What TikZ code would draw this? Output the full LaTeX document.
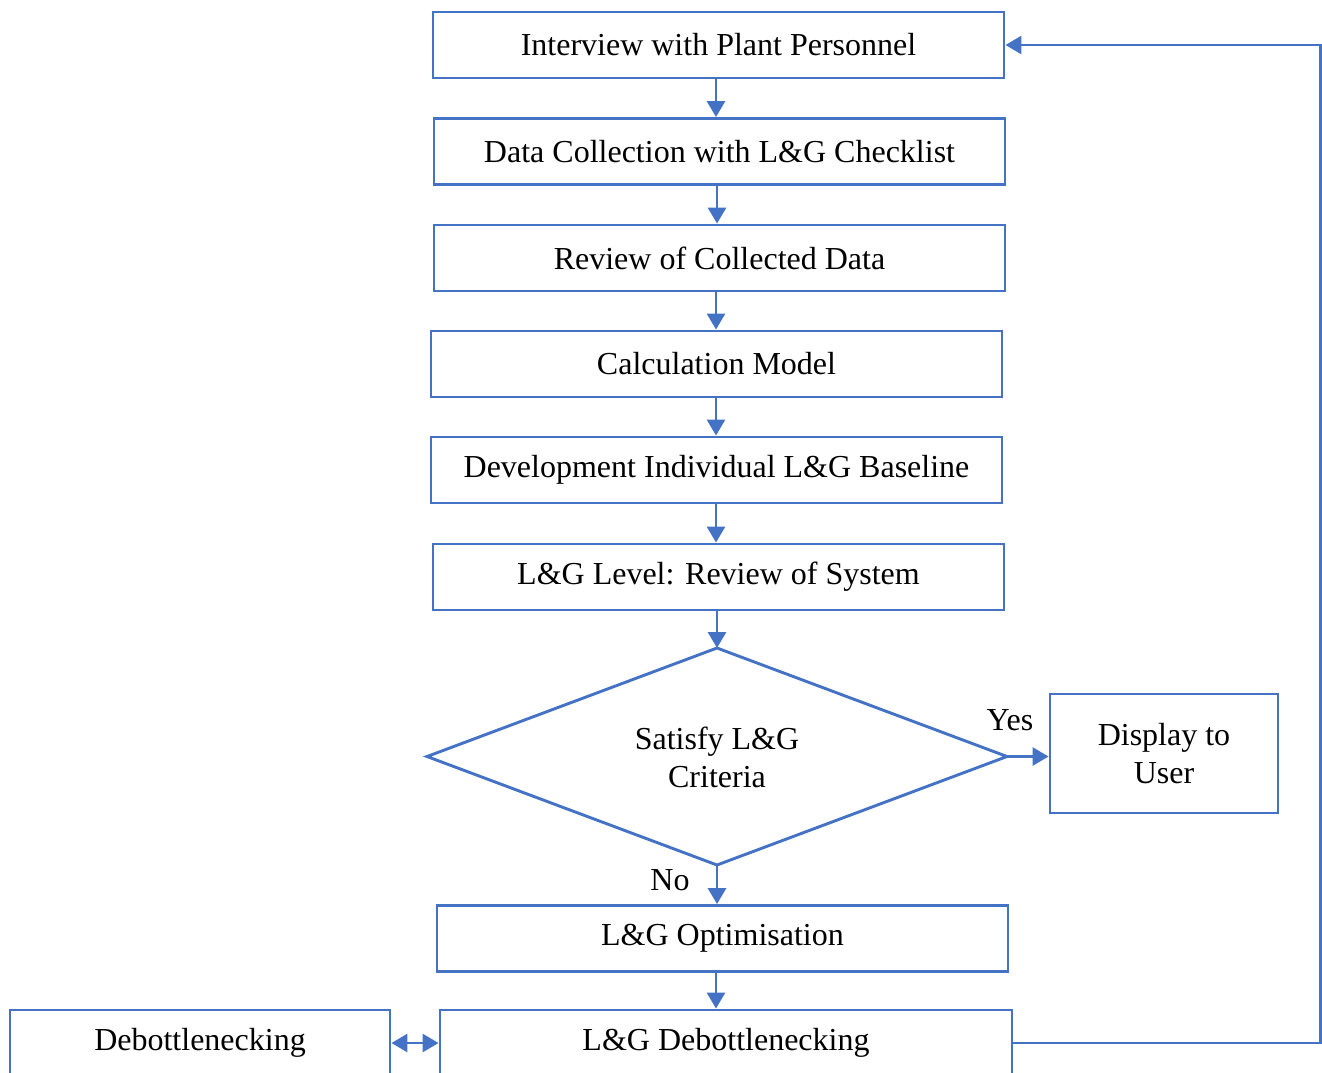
\documentclass[tikz,border=0pt]{standalone}
\usepackage{fontspec}
\setmainfont{Liberation Serif}
\usetikzlibrary{arrows.meta}
\definecolor{flowblue}{RGB}{68,114,196}
\begin{document}
\begin{tikzpicture}[x=0.5pt,y=-0.5pt,
  every node/.style={font=\fontsize{16}{19}\selectfont, text=black},
  procbox/.style={draw=flowblue, line width=1.45pt, fill=white, minimum width=285.5pt, minimum height=33pt, inner sep=0pt, align=center},
  decisline/.style={draw=flowblue, line width=1.45pt, line join=miter},
  flow/.style={draw=flowblue, line width=1.45pt, -{Triangle[length=8pt,width=9pt]}},
  flowboth/.style={draw=flowblue, line width=1.45pt, {Triangle[length=8pt,width=9pt]}-{Triangle[length=8pt,width=9pt]}}]
\useasboundingbox (0,0) rectangle (1322,1072);
\clip (0,0) rectangle (1322,1072);
\node[procbox] (interview) at (718.5,45) {Interview with Plant Personnel};
\node[procbox] (collect) at (719.5,151.5) {Data Collection with L\&G Checklist};
\node[procbox] (review) at (719.5,258) {Review of Collected Data};
\node[procbox] (calc) at (716.5,364) {Calculation Model};
\node[procbox] (devel) at (716.5,470) {Development Individual L\&G Baseline};
\node[procbox] (level) at (718.5,577) {L\&G Level: Review of System};
% decision diamond
\coordinate (dtop) at (717,648);
\coordinate (dright) at (1007,756.5);
\coordinate (dbot) at (717,865);
\coordinate (dleft) at (427,756.5);
\draw[decisline] (dtop) -- (dright) -- (dbot) -- (dleft) -- cycle;
\node[align=center] (crit) at (717,757) {Satisfy L\&G\\Criteria};
\node[procbox, minimum width=114pt, minimum height=59.5pt] (display) at (1164,753.5) {Display to\\User};
\node[procbox] (optim) at (722.5,938.5) {L\&G Optimisation};
\node[procbox, minimum width=286pt] (ldeb) at (726,1043) {L\&G Debottlenecking};
\node[procbox, minimum width=190pt] (deb) at (200,1043) {Debottlenecking};
\node (yes) at (1010,720) {Yes};
\node (no) at (670,880) {No};
\coordinate (corner1) at (1320.5,1043);
\coordinate (corner2) at (1320.5,45);
\draw[flow] (interview.south -| 716,0) -- (collect.north -| 716,0);
\draw[flow] (collect.south -| 717,0) -- (review.north -| 717,0);
\draw[flow] (review.south -| 716,0) -- (calc.north -| 716,0);
\draw[flow] (calc.south -| 716,0) -- (devel.north -| 716,0);
\draw[flow] (devel.south -| 716,0) -- (level.north -| 716,0);
\draw[flow] (dtop |- level.south) -- (dtop);
\draw[flow] (dright) -- (dright -| display.west);
\draw[flow] (dbot) -- (optim.north -| dbot);
\draw[flow] (optim.south -| 716,0) -- (ldeb.north -| 716,0);
\draw[flowboth] (deb.east) -- (ldeb.west);
\draw[flow] (ldeb.east) -- (corner1) -- (corner2) -- (interview.east);
\end{tikzpicture}
\end{document}
